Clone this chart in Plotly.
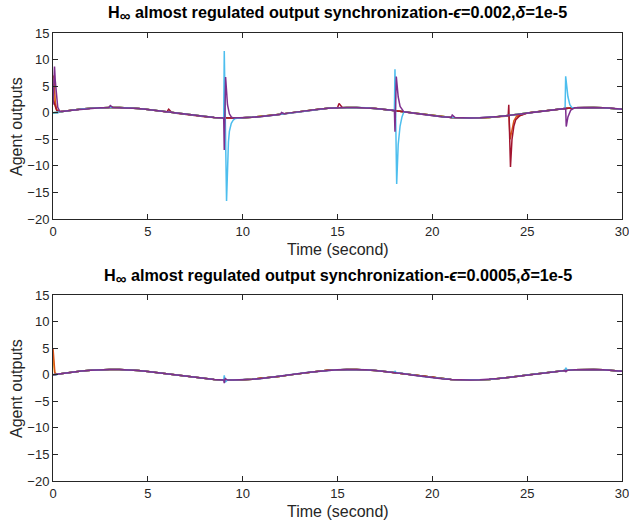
import plotly.graph_objects as go

# common trajectory that every agent settles onto
base_t = [i * 0.5 for i in range(61)]
base_y = [0.0, 0.25, 0.48, 0.68, 0.84, 0.95, 1.0, 0.98, 0.91, 0.78,
          0.6, 0.38, 0.14, -0.11, -0.35, -0.57, -0.76, -0.9, -0.98, -1.0,
          -0.96, -0.86, -0.71, -0.51, -0.28, -0.03, 0.22, 0.45, 0.66, 0.82,
          0.94, 0.99, 0.99, 0.92, 0.8, 0.62, 0.41, 0.17, -0.08, -0.32,
          -0.54, -0.74, -0.88, -0.97, -1.0, -0.97, -0.88, -0.73, -0.54, -0.31,
          -0.07, 0.18, 0.42, 0.66, 0.8, 0.93, 0.99, 0.99, 0.94, 0.82, 0.65]

agents = ['blue', 'yellow', 'green', 'orange', 'red', 'cyan', 'purple']
colors = {'blue': '#0072BD', 'orange': '#D95319', 'yellow': '#EDB120',
          'purple': '#7E2F8E', 'green': '#77AC30', 'cyan': '#4DBEEE',
          'red': '#A2142F'}

# transients, epsilon = 0.002 (top)
top_events = {
    'blue': [([0, 0.25, 0.4], [0.0, 0.0, 0.2])],
    'orange': [([0, 0.05, 0.12, 0.2, 0.35], [7.0, 6.5, 2.0, 0.5, 0.17]),
               ([24.0, 24.04, 24.1, 24.2, 24.3, 24.5], [-0.54, -0.6, -5.0, -3.0, -1.5, -0.7])],
    'yellow': [([0, 0.08, 0.15, 0.3], [4.0, 2.5, 0.8, 0.15])],
    'green': [],
    'red': [([0, 0.1, 0.2, 0.35], [2.5, 1.5, 0.4, 0.17]),
            ([6.0, 6.1, 6.25], [0.14, 0.65, 0.1]),
            ([15.0, 15.08, 15.25], [0.94, 1.75, 0.98]),
            ([24.0, 24.03, 24.12, 24.2, 24.3, 24.4, 24.6],
             [-0.54, 1.5, -10.2, -5.0, -2.5, -1.3, -0.6])],
    'cyan': [([9.0, 9.03, 9.15, 9.2, 9.25, 9.3, 9.4, 9.5, 9.6],
              [-0.98, 11.6, -16.6, -9.0, -5.5, -3.5, -2.0, -1.4, -1.1]),
             ([18.0, 18.03, 18.12, 18.2, 18.3, 18.4, 18.5],
              [0.41, 8.2, -13.4, -6.0, -2.5, -0.8, 0.17]),
             ([27.0, 27.03, 27.15, 27.25, 27.35, 27.5],
              [0.8, 6.85, 3.0, 1.5, 1.0, 0.93])],
    'purple': [([0, 0.08, 0.12, 0.18, 0.25, 0.35, 0.5], [1.5, 8.7, 6.0, 3.0, 1.0, 0.3, 0.25]),
               ([2.95, 3.02, 3.15], [0.99, 1.35, 1.0]),
               ([9.0, 9.03, 9.1, 9.15, 9.2, 9.3, 9.4, 9.5],
                [-0.98, -7.0, 6.7, 3.5, 1.5, -0.2, -0.8, -1.0]),
               ([12.0, 12.05, 12.2], [-0.28, 0.05, -0.2]),
               ([18.0, 18.03, 18.1, 18.2, 18.3, 18.5], [0.41, -3.6, 6.8, 3.0, 1.2, 0.17]),
               ([21.0, 21.05, 21.2], [-0.88, -0.45, -0.92]),
               ([27.0, 27.03, 27.06, 27.15, 27.3, 27.5], [0.8, 0.8, -2.6, -0.8, 0.5, 0.93])],
}

# transients, epsilon = 0.0005 (bottom)
bottom_events = {
    'blue': [([0, 0.15, 0.3], [0.0, 0.0, 0.15])],
    'orange': [([0, 0.05, 0.1, 0.2], [5.0, 2.5, 0.3, 0.1])],
    'yellow': [([0, 0.08, 0.2], [3.5, 0.5, 0.1])],
    'green': [],
    'red': [],
    'cyan': [([9.0, 9.03, 9.08, 9.2], [-0.98, -0.1, -1.4, -1.0]),
             ([18.0, 18.03, 18.1, 18.2], [0.41, 0.7, 0.35, 0.35]),
             ([27.0, 27.03, 27.12], [0.8, 1.3, 0.85])],
    'purple': [([9.0, 9.03, 9.08, 9.2], [-0.98, -1.6, -0.7, -1.0]),
               ([27.0, 27.03, 27.1], [0.8, 0.5, 0.82])],
}


def merge(events):
    pts = []
    for t, y in zip(base_t, base_y):
        if not any(ev[0][0] <= t < ev[0][-1] for ev in events):
            pts.append((t, y))
    for ev in events:
        pts += list(zip(ev[0], ev[1]))
    pts.sort(key=lambda p: p[0])
    return [p[0] for p in pts], [p[1] for p in pts]


fig = go.Figure()
for name in agents:
    for events, ax in ((top_events, ''), (bottom_events, '2')):
        x, y = merge(events[name])
        fig.add_trace(go.Scatter(x=x, y=y, mode='lines', xaxis='x' + ax, yaxis='y' + ax,
                                 line=dict(color=colors[name], width=1.5), showlegend=False))

W, H = 629, 523
axis_style = dict(showgrid=False, zeroline=False, showline=True, linecolor='#262626',
                  linewidth=1, mirror='allticks', ticks='inside', ticklen=5,
                  tickcolor='#262626', tickfont=dict(size=13, color='#262626'),
                  ticklabeloverflow='allow')
xdom = [53 / W, 622 / W]
fig.update_layout(
    width=W, height=H, margin=dict(l=0, r=0, t=0, b=0, autoexpand=False),
    plot_bgcolor='white', paper_bgcolor='white',
    font=dict(family='Liberation Sans, Arial, sans-serif', color='#262626'),
    xaxis=dict(domain=xdom, range=[0, 30], dtick=5, anchor='y', **axis_style),
    yaxis=dict(domain=[1 - 219 / H, 1 - 33 / H], range=[-20, 15], dtick=5,
               anchor='x', **axis_style),
    xaxis2=dict(domain=xdom, range=[0, 30], dtick=5, anchor='y2', **axis_style),
    yaxis2=dict(domain=[1 - 481 / H, 1 - 295 / H], range=[-20, 15], dtick=5,
                anchor='x2', **axis_style),
)

xc = (xdom[0] + xdom[1]) / 2
inf = '<sub><span style="font-size:15px">∞</span></sub>'
titles = [('<b>H' + inf + ' almost regulated output synchronization-<i>ϵ</i>=0.002,<i>δ</i>=1e-5</b>', 13),
          ('<b>H' + inf + ' almost regulated output synchronization-<i>ϵ</i>=0.0005,<i>δ</i>=1e-5</b>', 276)]
for text, ypx in titles:
    fig.add_annotation(text=text, x=xc, y=1 - ypx / H, xref='paper', yref='paper',
                       xanchor='center', yanchor='middle', showarrow=False,
                       font=dict(size=16.2, color='black'))
for ypx in (249, 511):
    fig.add_annotation(text='Time (second)', x=xc, y=1 - ypx / H, xref='paper',
                       yref='paper', xanchor='center', yanchor='middle', showarrow=False,
                       font=dict(size=16, color='#262626'))
for ypx in (127, 389):
    fig.add_annotation(text='Agent outputs', x=16 / W, y=1 - ypx / H, xref='paper',
                       yref='paper', xanchor='center', yanchor='middle', showarrow=False,
                       textangle=-90, font=dict(size=16, color='#262626'))

fig.write_html("out.html", config={'displayModeBar': False},
               post_script="document.body.style.margin='0';")
